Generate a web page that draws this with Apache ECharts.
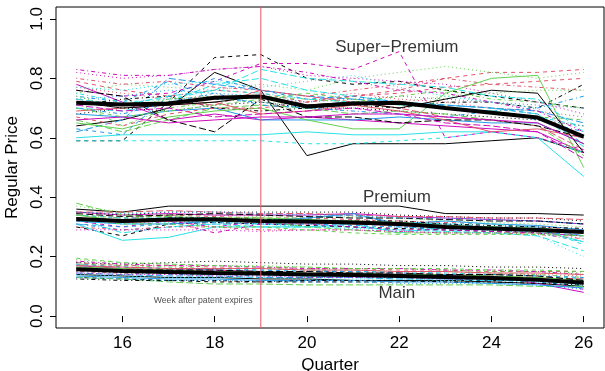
<!DOCTYPE html>
<html>
<head>
<meta charset="utf-8">
<script src="https://cdn.jsdelivr.net/npm/echarts@6/dist/echarts.min.js"></script>
<style>
  html, body { margin: 0; padding: 0; background: #fff; }
  #chart { width: 605px; height: 371px; }
</style>
</head>
<body>
<div id="chart"></div>
<script>
// quarters on the x axis
const quarters = [15, 16, 17, 18, 19, 20, 21, 22, 23, 24, 25, 26];
const xTicks = [16, 18, 20, 22, 24, 26];
const yTicks = [0, 0.2, 0.4, 0.6, 0.8, 1.0];
const yMin = -0.04;
const yMax = 1.04;
const patentQuarter = 19;

// Super-Premium brands
const superPremium = [
    [0.64, 0.66, 0.70, 0.82, 0.76, 0.54, 0.58, 0.58, 0.58, 0.59, 0.60, 0.55],
    [0.79, 0.76, 0.74, 0.76, 0.75, 0.72, 0.74, 0.76, 0.80, 0.82, 0.82, 0.83],
    [0.75, 0.78, 0.77, 0.76, 0.78, 0.76, 0.80, 0.82, 0.84, 0.82, 0.80, 0.82],
    [0.74, 0.72, 0.79, 0.73, 0.72, 0.70, 0.71, 0.72, 0.70, 0.69, 0.66, 0.62],
    [0.70, 0.69, 0.72, 0.78, 0.80, 0.76, 0.74, 0.72, 0.71, 0.70, 0.68, 0.57],
    [0.78, 0.72, 0.66, 0.68, 0.66, 0.67, 0.66, 0.65, 0.64, 0.63, 0.62, 0.55],
    [0.59, 0.59, 0.72, 0.87, 0.88, 0.80, 0.78, 0.79, 0.76, 0.74, 0.72, 0.70],
    [0.77, 0.75, 0.73, 0.74, 0.73, 0.72, 0.75, 0.73, 0.72, 0.70, 0.69, 0.67],
    [0.72, 0.64, 0.70, 0.72, 0.74, 0.73, 0.72, 0.74, 0.76, 0.73, 0.72, 0.70],
    [0.62, 0.66, 0.80, 0.78, 0.76, 0.74, 0.73, 0.72, 0.71, 0.70, 0.69, 0.65],
    [0.60, 0.61, 0.61, 0.61, 0.61, 0.62, 0.61, 0.61, 0.62, 0.62, 0.60, 0.47],
    [0.76, 0.74, 0.75, 0.79, 0.85, 0.85, 0.83, 0.89, 0.60, 0.62, 0.60, 0.56],
    [0.68, 0.70, 0.69, 0.71, 0.72, 0.70, 0.70, 0.69, 0.68, 0.67, 0.66, 0.64],
    [0.80, 0.78, 0.79, 0.77, 0.76, 0.74, 0.76, 0.78, 0.80, 0.78, 0.77, 0.76],
    [0.66, 0.62, 0.66, 0.70, 0.71, 0.70, 0.68, 0.69, 0.68, 0.66, 0.64, 0.54],
    [0.68, 0.67, 0.69, 0.70, 0.66, 0.66, 0.66, 0.67, 0.66, 0.65, 0.65, 0.58],
    [0.59, 0.59, 0.59, 0.59, 0.59, 0.58, 0.58, 0.59, 0.60, 0.62, 0.60, 0.55],
    [0.82, 0.80, 0.81, 0.83, 0.84, 0.81, 0.80, 0.79, 0.78, 0.75, 0.72, 0.68],
    [0.71, 0.73, 0.74, 0.70, 0.69, 0.70, 0.71, 0.70, 0.72, 0.72, 0.70, 0.78],
    [0.73, 0.71, 0.72, 0.71, 0.76, 0.74, 0.72, 0.70, 0.67, 0.66, 0.64, 0.56],
    [0.65, 0.63, 0.67, 0.69, 0.70, 0.66, 0.63, 0.63, 0.75, 0.80, 0.81, 0.50],
    [0.63, 0.61, 0.74, 0.80, 0.76, 0.73, 0.74, 0.72, 0.71, 0.70, 0.68, 0.58],
    [0.77, 0.76, 0.78, 0.79, 0.77, 0.79, 0.81, 0.77, 0.74, 0.72, 0.70, 0.59],
    [0.83, 0.81, 0.81, 0.83, 0.84, 0.82, 0.79, 0.76, 0.75, 0.72, 0.69, 0.62],
    [0.76, 0.74, 0.66, 0.62, 0.73, 0.67, 0.67, 0.65, 0.66, 0.66, 0.64, 0.60],
    [0.69, 0.70, 0.71, 0.72, 0.68, 0.69, 0.71, 0.69, 0.66, 0.62, 0.63, 0.60],
    [0.70, 0.67, 0.69, 0.71, 0.73, 0.75, 0.73, 0.71, 0.70, 0.69, 0.67, 0.66],
    [0.73, 0.74, 0.76, 0.75, 0.74, 0.72, 0.73, 0.74, 0.73, 0.72, 0.71, 0.70],
    [0.75, 0.72, 0.73, 0.76, 0.75, 0.73, 0.72, 0.71, 0.70, 0.69, 0.67, 0.64],
    [0.71, 0.69, 0.70, 0.67, 0.68, 0.69, 0.70, 0.68, 0.65, 0.64, 0.62, 0.53],
    [0.72, 0.70, 0.71, 0.72, 0.74, 0.71, 0.72, 0.70, 0.73, 0.76, 0.75, 0.55],
    [0.67, 0.64, 0.68, 0.70, 0.70, 0.72, 0.74, 0.75, 0.77, 0.78, 0.79, 0.80],
    [0.74, 0.70, 0.73, 0.74, 0.72, 0.71, 0.70, 0.72, 0.74, 0.75, 0.76, 0.76],
    [0.70, 0.68, 0.72, 0.75, 0.71, 0.70, 0.69, 0.68, 0.67, 0.69, 0.70, 0.74],
    [0.73, 0.71, 0.74, 0.76, 0.83, 0.80, 0.79, 0.78, 0.77, 0.74, 0.73, 0.62],
    [0.66, 0.67, 0.65, 0.66, 0.67, 0.67, 0.68, 0.68, 0.67, 0.66, 0.65, 0.58]
];

// Premium brands
const premium = [
    [0.36, 0.35, 0.37, 0.37, 0.37, 0.37, 0.37, 0.37, 0.345, 0.345, 0.345, 0.34],
    [0.34, 0.33, 0.34, 0.335, 0.33, 0.33, 0.325, 0.32, 0.315, 0.31, 0.30, 0.29],
    [0.37, 0.35, 0.34, 0.34, 0.335, 0.33, 0.335, 0.33, 0.32, 0.315, 0.31, 0.30],
    [0.31, 0.29, 0.30, 0.31, 0.31, 0.31, 0.32, 0.30, 0.29, 0.29, 0.28, 0.25],
    [0.33, 0.28, 0.30, 0.31, 0.30, 0.30, 0.30, 0.29, 0.285, 0.28, 0.27, 0.22],
    [0.35, 0.34, 0.345, 0.34, 0.34, 0.34, 0.345, 0.335, 0.33, 0.325, 0.32, 0.31],
    [0.30, 0.27, 0.31, 0.315, 0.31, 0.305, 0.30, 0.295, 0.29, 0.285, 0.28, 0.27],
    [0.32, 0.31, 0.32, 0.32, 0.315, 0.31, 0.31, 0.305, 0.30, 0.30, 0.29, 0.26],
    [0.34, 0.33, 0.335, 0.33, 0.33, 0.32, 0.315, 0.31, 0.30, 0.30, 0.295, 0.28],
    [0.33, 0.32, 0.33, 0.33, 0.32, 0.33, 0.34, 0.31, 0.31, 0.30, 0.30, 0.27],
    [0.31, 0.255, 0.265, 0.30, 0.30, 0.30, 0.31, 0.28, 0.30, 0.30, 0.29, 0.25],
    [0.32, 0.30, 0.32, 0.28, 0.31, 0.31, 0.30, 0.29, 0.29, 0.285, 0.28, 0.27],
    [0.35, 0.34, 0.35, 0.35, 0.35, 0.35, 0.35, 0.34, 0.335, 0.33, 0.33, 0.32],
    [0.30, 0.29, 0.30, 0.30, 0.29, 0.29, 0.29, 0.285, 0.28, 0.28, 0.275, 0.26],
    [0.38, 0.34, 0.335, 0.33, 0.32, 0.30, 0.29, 0.28, 0.28, 0.28, 0.28, 0.27],
    [0.32, 0.31, 0.31, 0.32, 0.32, 0.33, 0.345, 0.31, 0.32, 0.31, 0.305, 0.29],
    [0.34, 0.33, 0.33, 0.33, 0.325, 0.32, 0.32, 0.315, 0.31, 0.31, 0.30, 0.24],
    [0.29, 0.29, 0.29, 0.29, 0.285, 0.29, 0.29, 0.285, 0.28, 0.28, 0.28, 0.27],
    [0.33, 0.32, 0.33, 0.33, 0.325, 0.32, 0.32, 0.32, 0.31, 0.305, 0.30, 0.295],
    [0.35, 0.35, 0.355, 0.35, 0.345, 0.345, 0.34, 0.335, 0.335, 0.33, 0.33, 0.325],
    [0.34, 0.32, 0.325, 0.33, 0.33, 0.325, 0.32, 0.315, 0.305, 0.30, 0.295, 0.285],
    [0.31, 0.30, 0.31, 0.315, 0.31, 0.31, 0.305, 0.30, 0.295, 0.29, 0.285, 0.27],
    [0.32, 0.31, 0.315, 0.32, 0.31, 0.30, 0.295, 0.29, 0.285, 0.28, 0.27, 0.20],
    [0.33, 0.32, 0.32, 0.30, 0.32, 0.32, 0.31, 0.31, 0.30, 0.295, 0.29, 0.28],
    [0.345, 0.335, 0.34, 0.345, 0.34, 0.335, 0.33, 0.33, 0.325, 0.32, 0.32, 0.31],
    [0.325, 0.315, 0.32, 0.325, 0.32, 0.315, 0.31, 0.305, 0.30, 0.295, 0.29, 0.28],
    [0.33, 0.31, 0.31, 0.30, 0.30, 0.29, 0.28, 0.275, 0.275, 0.275, 0.275, 0.27],
    [0.35, 0.345, 0.35, 0.35, 0.345, 0.34, 0.34, 0.33, 0.33, 0.325, 0.32, 0.31]
];

// Main brands
const mainBrands = [
    [0.14, 0.135, 0.13, 0.13, 0.125, 0.125, 0.12, 0.12, 0.12, 0.115, 0.11, 0.10],
    [0.18, 0.17, 0.17, 0.165, 0.165, 0.16, 0.16, 0.155, 0.155, 0.15, 0.15, 0.15],
    [0.19, 0.18, 0.175, 0.17, 0.17, 0.165, 0.16, 0.16, 0.155, 0.15, 0.15, 0.145],
    [0.15, 0.145, 0.14, 0.14, 0.135, 0.135, 0.13, 0.13, 0.125, 0.12, 0.115, 0.10],
    [0.16, 0.155, 0.15, 0.145, 0.14, 0.14, 0.135, 0.135, 0.13, 0.13, 0.125, 0.12],
    [0.17, 0.16, 0.155, 0.155, 0.15, 0.145, 0.145, 0.14, 0.14, 0.135, 0.11, 0.08],
    [0.13, 0.125, 0.12, 0.115, 0.115, 0.115, 0.115, 0.115, 0.12, 0.12, 0.12, 0.11],
    [0.165, 0.16, 0.155, 0.155, 0.15, 0.15, 0.15, 0.145, 0.145, 0.14, 0.14, 0.135],
    [0.175, 0.17, 0.165, 0.16, 0.16, 0.155, 0.155, 0.15, 0.15, 0.145, 0.14, 0.13],
    [0.145, 0.14, 0.135, 0.135, 0.13, 0.13, 0.13, 0.125, 0.125, 0.12, 0.12, 0.115],
    [0.155, 0.15, 0.145, 0.14, 0.14, 0.135, 0.135, 0.13, 0.13, 0.125, 0.12, 0.11],
    [0.16, 0.155, 0.15, 0.15, 0.145, 0.145, 0.14, 0.14, 0.135, 0.13, 0.12, 0.09],
    [0.18, 0.175, 0.18, 0.185, 0.18, 0.175, 0.175, 0.17, 0.17, 0.165, 0.165, 0.16],
    [0.15, 0.145, 0.145, 0.14, 0.14, 0.14, 0.135, 0.135, 0.13, 0.13, 0.125, 0.12],
    [0.13, 0.125, 0.115, 0.108, 0.108, 0.105, 0.105, 0.105, 0.105, 0.105, 0.10, 0.10],
    [0.135, 0.13, 0.125, 0.125, 0.12, 0.12, 0.12, 0.115, 0.115, 0.11, 0.105, 0.095],
    [0.17, 0.165, 0.16, 0.16, 0.155, 0.155, 0.15, 0.15, 0.145, 0.14, 0.135, 0.125],
    [0.145, 0.14, 0.14, 0.135, 0.135, 0.13, 0.13, 0.13, 0.125, 0.125, 0.12, 0.115],
    [0.125, 0.12, 0.12, 0.12, 0.115, 0.12, 0.12, 0.12, 0.115, 0.115, 0.11, 0.105],
    [0.155, 0.15, 0.15, 0.145, 0.145, 0.14, 0.14, 0.14, 0.135, 0.135, 0.13, 0.125],
    [0.165, 0.16, 0.155, 0.15, 0.15, 0.145, 0.145, 0.14, 0.14, 0.135, 0.13, 0.12],
    [0.175, 0.165, 0.16, 0.155, 0.155, 0.15, 0.15, 0.145, 0.14, 0.14, 0.135, 0.13],
    [0.14, 0.135, 0.13, 0.13, 0.13, 0.125, 0.125, 0.125, 0.12, 0.12, 0.115, 0.105],
    [0.185, 0.175, 0.17, 0.17, 0.165, 0.16, 0.16, 0.16, 0.155, 0.155, 0.15, 0.14],
    [0.16, 0.155, 0.155, 0.155, 0.15, 0.15, 0.145, 0.145, 0.14, 0.14, 0.135, 0.12],
    [0.17, 0.165, 0.16, 0.16, 0.16, 0.155, 0.155, 0.15, 0.15, 0.145, 0.145, 0.14],
    [0.195, 0.18, 0.175, 0.17, 0.165, 0.165, 0.16, 0.16, 0.16, 0.155, 0.155, 0.15],
    [0.13, 0.125, 0.12, 0.12, 0.12, 0.115, 0.115, 0.11, 0.11, 0.11, 0.105, 0.09]
];

// group averages (thick black lines)
const superPremiumMean = [0.718, 0.712, 0.715, 0.735, 0.739, 0.705, 0.715, 0.718, 0.700, 0.684, 0.668, 0.604];
const premiumMean = [0.327, 0.320, 0.325, 0.325, 0.320, 0.318, 0.315, 0.310, 0.300, 0.295, 0.290, 0.283];
const mainMean = [0.158, 0.152, 0.148, 0.145, 0.143, 0.140, 0.138, 0.135, 0.132, 0.128, 0.122, 0.112];

// text annotations
const noteTexts = ['Super\u2212Premium', 'Premium', 'Main', 'Week after patent expires'];
const notePositions = [[21.95, 0.905], [21.95, 0.40], [21.95, 0.078], [17.75, 0.052]];

window.addEventListener('DOMContentLoaded', function() {
    initChart();
});

function initChart() {
    const chartDom = document.getElementById('chart');
    const myChart = echarts.init(chartDom);

    const font = 'Liberation Sans, Arial, sans-serif';
    // R default palette and line types (matplot style)
    const palette = ['#000000', '#DF536B', '#61D04F', '#2297E6', '#28E2E5', '#CD0BBC'];
    const dashes = ['solid', [4, 4], [1, 3], [1, 3, 4, 3], [7, 3]];

    const series = [];

    function addGroup(lines) {
        lines.forEach(function(vals, i) {
            series.push({
                type: 'line',
                data: quarters.map((q, k) => [q, vals[k]]),
                symbol: 'none',
                silent: true,
                lineStyle: {
                    color: palette[i % palette.length],
                    width: 1,
                    type: dashes[i % dashes.length]
                },
                z: 2
            });
        });
    }

    addGroup(superPremium);
    addGroup(premium);
    addGroup(mainBrands);

    [superPremiumMean, premiumMean, mainMean].forEach(function(vals) {
        series.push({
            type: 'line',
            data: quarters.map((q, k) => [q, vals[k]]),
            symbol: 'none',
            silent: true,
            lineStyle: { color: '#000', width: 4 },
            z: 3
        });
    });

    // patent expiry marker (vertical line across the whole plot)
    series.push({
        type: 'line',
        data: [[patentQuarter, yMin], [patentQuarter, yMax]],
        symbol: 'none',
        silent: true,
        lineStyle: { color: '#E8566E', width: 1, type: 'solid' },
        z: 4
    });

    // annotations
    const noteSizes = [17, 17, 17, 8.7];
    series.push({
        type: 'scatter',
        symbolSize: 0,
        silent: true,
        data: noteTexts.map((t, i) => ({
            value: notePositions[i],
            name: t,
            label: { fontSize: noteSizes[i], color: i === 3 ? '#222' : '#000' }
        })),
        label: {
            show: true,
            position: [0, 0],
            align: 'center',
            verticalAlign: 'middle',
            formatter: '{b}',
            fontFamily: font
        },
        z: 5
    });

    const option = {
        animation: false,
        grid: {
            left: 56,
            right: 1,
            top: 7,
            bottom: 43,
            outerBoundsMode: 'none',
            show: true,
            borderColor: '#000',
            borderWidth: 1,
            backgroundColor: 'transparent'
        },
        xAxis: {
            type: 'value',
            min: 14.56,
            max: 26.44,
            name: 'Quarter',
            nameLocation: 'middle',
            nameGap: 25,
            nameTextStyle: { fontSize: 17, color: '#000', fontFamily: font },
            axisLine: { show: false },
            axisTick: { show: true, length: 6, customValues: xTicks, lineStyle: { color: '#000' } },
            axisLabel: {
                customValues: xTicks,
                margin: 7,
                fontSize: 17,
                color: '#000',
                fontFamily: font
            },
            splitLine: { show: false }
        },
        yAxis: {
            type: 'value',
            min: yMin,
            max: yMax,
            name: 'Regular Price',
            nameLocation: 'middle',
            nameGap: 26,
            nameRotate: 90,
            nameTextStyle: { fontSize: 17, color: '#000', fontFamily: font },
            axisLine: { show: false },
            axisTick: { show: true, length: 6, customValues: yTicks, lineStyle: { color: '#000' } },
            axisLabel: {
                customValues: yTicks,
                rotate: 90,
                margin: 10,
                fontSize: 17,
                color: '#000',
                fontFamily: font,
                formatter: v => v.toFixed(1)
            },
            splitLine: { show: false }
        },
        series: series
    };

    myChart.setOption(option);
    window.addEventListener('resize', () => myChart.resize());
}
</script>
</body>
</html>
